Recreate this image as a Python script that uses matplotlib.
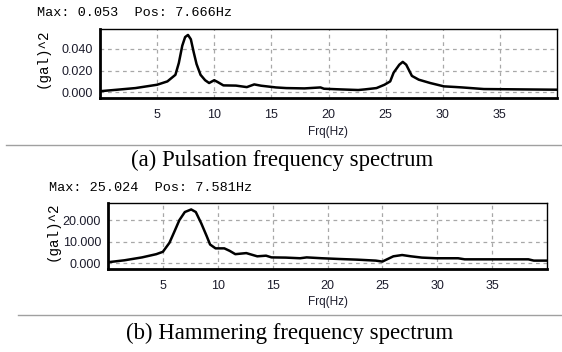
import numpy as np
import matplotlib
matplotlib.use("Agg")
import matplotlib.pyplot as plt

# (a) pulsation spectrum
freq_a = [0.0, 1.2, 3.1, 5.0, 5.9, 6.6, 6.9, 7.2, 7.45, 7.7, 7.95, 8.2, 8.45,
          8.8, 9.2, 9.55, 10.0, 10.3, 10.8, 11.9, 12.85, 13.5, 14.1, 15.4,
          16.3, 17.9, 19.3, 19.6, 21.0, 22.6, 23.2, 24.2, 24.9, 25.4, 25.7,
          26.2, 26.5, 26.8, 27.3, 27.9, 28.9, 30.1, 31.1, 31.7, 33.6, 36.7,
          40.0]
amp_a = [0.0008, 0.0019, 0.0037, 0.0068, 0.0099, 0.016, 0.027, 0.043, 0.051,
         0.053, 0.049, 0.037, 0.026, 0.016, 0.011, 0.0084, 0.011, 0.0093,
         0.0062, 0.006, 0.0046, 0.0071, 0.0059, 0.0043, 0.0037, 0.0034,
         0.0043, 0.0031, 0.0025, 0.0019, 0.0025, 0.0037, 0.0068, 0.0099,
         0.018, 0.0254, 0.028, 0.0254, 0.015, 0.0115, 0.0084, 0.0053, 0.0047,
         0.0043, 0.0028, 0.0025, 0.0022]

# (b) hammering spectrum
freq_b = [0.0, 1.5, 3.1, 4.4, 5.0, 5.6, 6.05, 6.5, 7.0, 7.58, 8.0, 8.5, 9.0,
          9.3, 9.8, 10.6, 11.1, 11.6, 12.6, 13.6, 14.4, 14.9, 16.2, 17.5,
          18.1, 19.5, 21.1, 22.7, 24.4, 25.0, 25.3, 26.0, 26.8, 27.6, 28.6,
          29.9, 31.9, 32.5, 35.8, 38.3, 38.8, 40.0]
amp_b = [0.45, 1.35, 2.7, 4.2, 5.3, 9.5, 14.7, 20.0, 23.8, 25.0, 23.8, 18.5,
         12.5, 8.7, 6.9, 6.9, 5.7, 4.2, 4.7, 3.2, 3.5, 2.7, 2.6, 2.3, 2.7,
         2.3, 1.95, 1.65, 1.2, 0.75, 1.5, 3.2, 3.8, 3.2, 2.6, 2.3, 2.3, 1.8,
         1.8, 1.8, 1.2, 1.2]

xticks = [5, 10, 15, 20, 25, 30, 35]
yticks_a = [0.0, 0.02, 0.04]
yticks_b = [0.0, 10.0, 20.0]
headers = ["Max: 0.053  Pos: 7.666Hz", "Max: 25.024  Pos: 7.581Hz"]
captions = ["(a) Pulsation frequency spectrum", "(b) Hammering frequency spectrum"]

W, H = 562, 352
fig = plt.figure(figsize=(W / 100, H / 100), dpi=100)

mono = "Liberation Mono"
sans = "Liberation Sans"
serif = "Liberation Serif"
tick_col = "#1c1c2c"


def px_axes(l, t, r, b):
    return fig.add_axes([l / W, 1 - b / H, (r - l) / W, (b - t) / H])


def fx(x):
    return x / W


def fy(y):
    return 1 - y / H


def style(ax, yticks, ylim):
    ax.set_xlim(0, 40)
    ax.set_ylim(*ylim)
    ax.set_xticks(xticks)
    ax.set_yticks(yticks)
    ax.set_yticklabels([f"{v:.3f}" for v in yticks])
    ax.tick_params(length=0, labelsize=9, labelcolor=tick_col)
    ax.tick_params(axis="x", pad=8)
    ax.tick_params(axis="y", pad=5)
    for lab in ax.get_xticklabels() + ax.get_yticklabels():
        lab.set_fontfamily(sans)
    ax.grid(True, color="#a8a8a8", linestyle=(0, (3, 3)), linewidth=0.9)
    ax.set_axisbelow(True)
    for s in ["top", "right"]:
        ax.spines[s].set_linewidth(1.0)
    for s in ["left", "bottom"]:
        ax.spines[s].set_linewidth(2.0)


ax1 = px_axes(100, 29, 557, 98)
ax1.plot(freq_a, amp_a, color="black", linewidth=1.8)
style(ax1, yticks_a, (-0.0055, 0.0585))

ax2 = px_axes(108, 203, 547, 269)
ax2.plot(freq_b, amp_b, color="black", linewidth=1.8)
style(ax2, yticks_b, (-2.7, 28.0))

# axis titles
fig.text(fx(328), fy(132), "Frq(Hz)", fontfamily=sans, fontsize=8.5,
         color=tick_col, ha="center", va="center")
fig.text(fx(328), fy(302), "Frq(Hz)", fontfamily=sans, fontsize=8.5,
         color=tick_col, ha="center", va="center")
fig.text(fx(43), fy(58), "(gal)^2", fontfamily=mono, fontsize=10.3,
         rotation=90, ha="center", va="center")
fig.text(fx(53), fy(231), "(gal)^2", fontfamily=mono, fontsize=10.3,
         rotation=90, ha="center", va="center")

# readout headers
fig.text(fx(37), fy(13.5), headers[0], fontfamily=mono, fontsize=9.7, va="center")
fig.text(fx(49), fy(188), headers[1], fontfamily=mono, fontsize=9.7, va="center")

# separators
fig.add_artist(plt.Line2D([fx(6), 1], [fy(145)] * 2, color="#a0a0a0", linewidth=1))
fig.add_artist(plt.Line2D([fx(18), 1], [fy(314.5)] * 2, color="#a0a0a0", linewidth=1))

fig.text(fx(282), fy(160), captions[0], fontfamily=serif, fontsize=16.4,
         ha="center", va="center")
fig.text(fx(290), fy(333), captions[1], fontfamily=serif, fontsize=16.4,
         ha="center", va="center")

fig.savefig("out.png", dpi=100)
